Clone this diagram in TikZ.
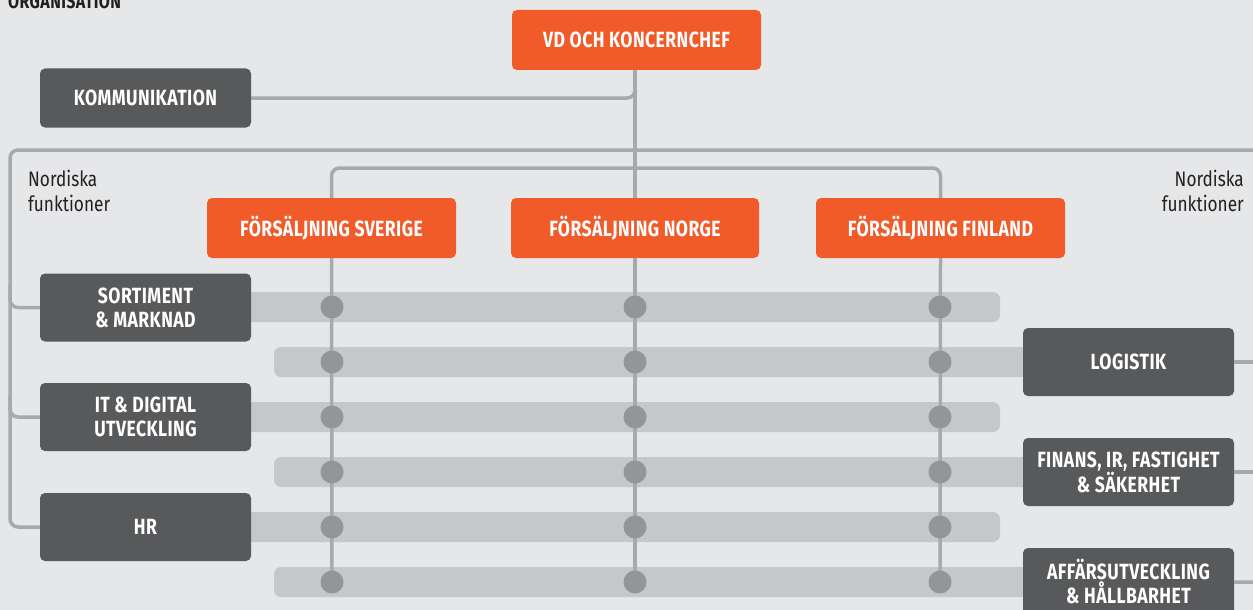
\documentclass[tikz,border=0pt]{standalone}
\usepackage{fontspec}
\setmainfont{Fira Sans}
\newfontfamily\boxfont[FakeStretch=0.8, LetterSpace=2]{Fira Sans}
\newfontfamily\plainfont[FakeStretch=0.82]{Fira Sans}
\definecolor{bgc}{HTML}{E6E7E8}
\definecolor{orangec}{HTML}{F15A29}
\definecolor{darkc}{HTML}{58595B}
\definecolor{linec}{HTML}{A7A9AC}
\definecolor{barc}{HTML}{C6C7C9}
\definecolor{dotc}{HTML}{939598}
\definecolor{textc}{HTML}{231F20}
\tikzset{
  dbox/.style={rounded corners=5pt, fill=darkc, text=white, minimum width=211pt, minimum height=68pt,
    inner sep=0pt, align=center, font=\boxfont\bfseries\fontsize{22}{24}\selectfont},
  obox/.style={dbox, fill=orangec, minimum width=249pt, minimum height=60pt},
  conn/.style={draw=linec, line width=3.5pt, rounded corners=8pt},
  barfill/.style={fill=barc, rounded corners=7pt},
  dot/.style={circle, fill=dotc, minimum size=23pt, inner sep=0pt},
  nordtext/.style={inner sep=0pt, text=textc, font=\plainfont\fontsize{21}{25}\selectfont}
}
\begin{document}
\begin{tikzpicture}[x=1pt,y=-1pt]
\useasboundingbox (0,0) rectangle (1253,610);
\clip (0,0) rectangle (1253,610);
\fill[bgc] (0,0) rectangle (1253,610);

% title
\node[anchor=base west, inner sep=0pt, text=textc, font=\boxfont\bfseries\fontsize{20}{22}\selectfont] (title) at (8,9) {ORGANISATION};

% nodes
\node[obox] (vd) at (636.5,40) {VD OCH KONCERNCHEF};
\node[dbox, minimum height=59pt] (komm) at (145.5,98) {KOMMUNIKATION};
\node[obox] (sve) at (331.5,228) {FÖRSÄLJNING SVERIGE};
\node[obox, minimum width=248pt] (nor) at (635,228) {FÖRSÄLJNING NORGE};
\node[obox] (fin) at (940.5,228) {FÖRSÄLJNING FINLAND};

\node[nordtext, anchor=north west, align=left] (nfl) at (28,170) {Nordiska\\funktioner};
\node[nordtext, anchor=north east, align=right] (nfr) at (1244,170) {Nordiska\\funktioner};

% bars
\foreach \y in {307,417,527} \fill[barfill] (230,\y-15) rectangle (1000,\y+15);
\foreach \y in {362,472,582} \fill[barfill] (274,\y-15) rectangle (1100,\y+15);

% coordinates
\coordinate (lb) at (10,150);
\coordinate (rb) at (1262,150);
\coordinate (se) at (332,582);
\coordinate (ne) at (635,582);
\coordinate (fe) at (940,582);

% connectors
\draw[conn] (komm.east) -- (nor.north |- komm.east) -- (nor.north |- vd.south);
\draw[conn] (nor.north |- vd.south) -- (nor.north);
\draw[conn] (sve.north) -- (sve.north |- 0,168) -- (fin.north |- 0,168) -- (fin.north);
\draw[conn] (sve.south) -- (se);
\draw[conn] (nor.south) -- (ne);
\draw[conn] (fin.south) -- (fe);

% left functions
\node[dbox] (sort) at (145.5,307.5) {SORTIMENT\\\& MARKNAD};
\node[dbox] (it) at (145.5,417) {IT \& DIGITAL\\UTVECKLING};
\node[dbox] (hr) at (145.5,527) {HR};
% right functions
\node[dbox] (log) at (1128.5,362) {LOGISTIK};
\node[dbox] (fina) at (1128.5,472) {FINANS, IR, FASTIGHET\\\& SÄKERHET};
\node[dbox] (aff) at (1128.5,582) {AFFÄRSUTVECKLING\\\& HÅLLBARHET};

\draw[conn] (rb) -- (lb) -- (lb |- hr.west) -- (hr.west);
\draw[conn] (10,285) -- (lb |- sort.west) -- (sort.west);
\draw[conn] (10,395) -- (lb |- it.west) -- (it.west);
\draw[conn] (rb) -- (rb |- aff.east) -- (aff.east);
\draw[conn] (log.east) -- (rb |- log.east);
\draw[conn] (fina.east) -- (rb |- fina.east);

% dots
\foreach \y [count=\r] in {307,362,417,472,527,582} {
  \node[dot] (ds\r) at (332,\y) {};
  \node[dot] (dn\r) at (635,\y) {};
  \node[dot] (df\r) at (940,\y) {};
}
\end{tikzpicture}
\end{document}
